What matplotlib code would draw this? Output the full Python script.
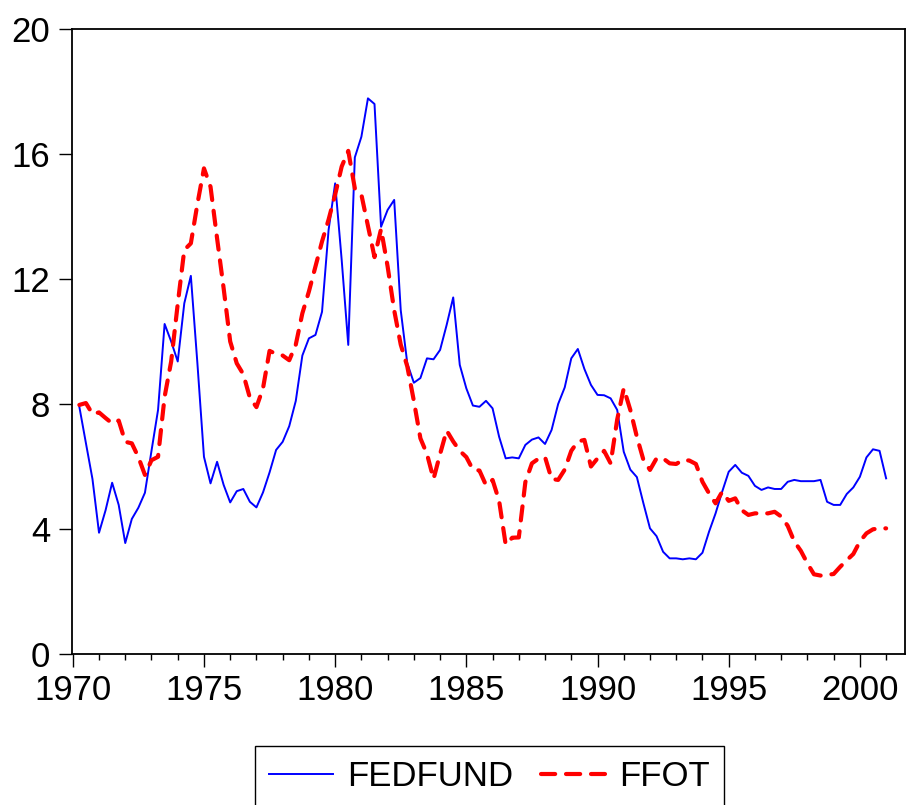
import numpy as np
import matplotlib.pyplot as plt
from matplotlib.ticker import MultipleLocator

plt.rcParams['font.family'] = ['Liberation Sans', 'DejaVu Sans']

# quarterly observations, 1970Q2 .. 2001Q1
start = 1970.25
fedfund = [7.91, 6.75, 5.60, 3.88, 4.60, 5.48, 4.77, 3.55, 4.32, 4.68,
           5.16, 6.50, 7.81, 10.56, 10.00, 9.36, 11.22, 12.10, 9.30, 6.31,
           5.46, 6.15, 5.41, 4.85, 5.21, 5.28, 4.87, 4.69, 5.17, 5.81,
           6.53, 6.79, 7.29, 8.10, 9.55, 10.10, 10.21, 10.95, 13.57, 15.06,
           12.60, 9.89, 15.89, 16.55, 17.78, 17.60, 13.67, 14.21, 14.53, 11.00,
           9.30, 8.68, 8.83, 9.46, 9.43, 9.73, 10.53, 11.41, 9.25, 8.50,
           7.95, 7.91, 8.10, 7.86, 6.95, 6.26, 6.29, 6.26, 6.69, 6.86,
           6.93, 6.72, 7.17, 8.00, 8.53, 9.46, 9.76, 9.12, 8.61, 8.29,
           8.28, 8.18, 7.81, 6.47, 5.90, 5.66, 4.82, 4.02, 3.77, 3.27,
           3.06, 3.06, 3.03, 3.06, 3.03, 3.24, 3.91, 4.50, 5.19, 5.83,
           6.05, 5.80, 5.70, 5.38, 5.25, 5.33, 5.28, 5.28, 5.51, 5.57,
           5.53, 5.53, 5.53, 5.57, 4.87, 4.77, 4.77, 5.12, 5.33, 5.67,
           6.29, 6.55, 6.50, 5.62]
ffot = [7.97, 8.03, 7.68, 7.73, 7.55, 7.38, 7.47, 6.79, 6.74, 6.30,
        5.73, 6.20, 6.31, 8.23, 9.36, 11.20, 12.93, 13.14, 14.40, 15.54,
        14.95, 13.30, 11.70, 10.00, 9.30, 8.95, 8.20, 7.90, 8.50, 9.70,
        9.60, 9.55, 9.40, 9.90, 10.90, 11.60, 12.40, 13.20, 13.90, 14.70,
        15.60, 16.10, 14.90, 14.70, 13.70, 12.70, 13.60, 12.40, 11.00, 9.90,
        9.20, 8.10, 6.90, 6.40, 5.60, 6.40, 7.15, 6.80, 6.50, 6.30,
        5.90, 5.87, 5.40, 5.57, 4.90, 3.50, 3.72, 3.73, 5.50, 6.10,
        6.25, 6.30, 5.60, 5.57, 5.90, 6.50, 6.80, 6.85, 6.00, 6.26,
        6.50, 6.10, 7.50, 8.50, 7.81, 6.95, 6.21, 5.89, 6.26, 6.26,
        6.10, 6.08, 6.21, 6.19, 6.08, 5.51, 5.14, 4.82, 5.19, 4.90,
        4.98, 4.60, 4.45, 4.50, 4.50, 4.50, 4.55, 4.40, 4.10, 3.60,
        3.30, 2.90, 2.55, 2.51, 2.53, 2.56, 2.79, 3.00, 3.20, 3.60,
        3.86, 3.99, 4.02, 4.02]

t = start + 0.25 * np.arange(len(fedfund))

fig = plt.figure(figsize=(9.08, 8.05), dpi=100)
ax = fig.add_axes([0.079, 0.1876, 0.9177, 0.7764])

ax.plot(t, fedfund, color='#0000ff', lw=1.4, label='FEDFUND')
ax.plot(t, ffot, color='#ff0000', lw=3.0, dashes=(3.4, 2.6),
        dash_capstyle='round', label='FFOT')

ax.set_xlim(1969.96, 2001.72)
ax.set_ylim(0, 20)
ax.set_yticks([0, 4, 8, 12, 16, 20])
ax.set_xticks([1970, 1975, 1980, 1985, 1990, 1995, 2000])
ax.xaxis.set_minor_locator(MultipleLocator(1))

for s in ax.spines.values():
    s.set_linewidth(1.3)
ax.tick_params(axis='both', which='major', direction='out', length=9.5,
               width=1.0, labelsize=25, pad=5, colors='black')
ax.tick_params(axis='x', which='minor', direction='out', length=4.5, width=1.0)
ax.tick_params(axis='y', pad=6)

leg = fig.legend(loc='center', bbox_to_anchor=(0.539, 0.0355), ncol=2,
                 fontsize=25, handlelength=1.85, handletextpad=0.4,
                 columnspacing=0.8, fancybox=False, edgecolor='black',
                 framealpha=1, borderpad=0.4)
leg.get_frame().set_linewidth(1.0)

fig.savefig('out.png', dpi=100)
